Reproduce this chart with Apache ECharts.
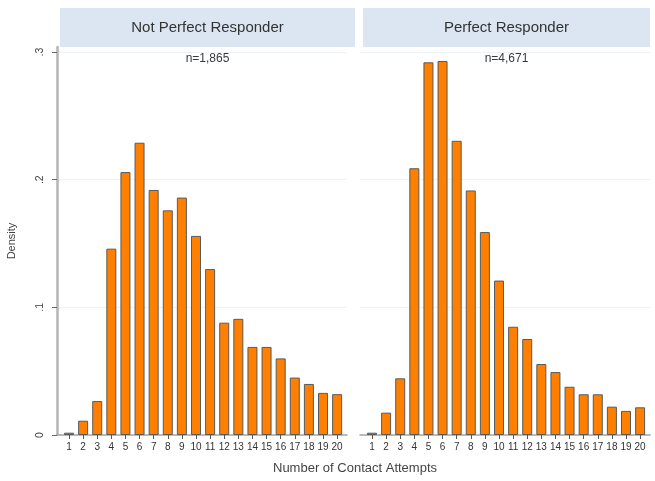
<!DOCTYPE html>
<html>
<head>
<meta charset="utf-8">
<script src="https://cdn.jsdelivr.net/npm/echarts@6/dist/echarts.min.js"></script>
<style>
  html, body { margin: 0; padding: 0; background: #fff; }
  #chart { width: 655px; height: 481px; }
</style>
</head>
<body>
<div id="chart"></div>
<script>
// Number of contact attempts (histogram bins)
const attempts = [1, 2, 3, 4, 5, 6, 7, 8, 9, 10, 11, 12, 13, 14, 15, 16, 17, 18, 19, 20];

// Density per bin, by responder group
const notPerfect = [0.0018, 0.0112, 0.0266, 0.146, 0.206, 0.229, 0.192, 0.176, 0.186, 0.156,
                    0.130, 0.088, 0.091, 0.069, 0.069, 0.060, 0.045, 0.040, 0.033, 0.032];
const perfect    = [0.0018, 0.0175, 0.0444, 0.209, 0.292, 0.293, 0.2305, 0.1916, 0.159, 0.121,
                    0.0848, 0.0752, 0.0556, 0.0493, 0.0378, 0.0319, 0.0319, 0.0222, 0.0189, 0.0217];

const panelTitles = ['Not Perfect Responder', 'Perfect Responder'];
const panelCounts = ['n=1,865', 'n=4,671'];
const yTicks = [0, 0.1, 0.2, 0.3];
const yTickLabels = ['0', '.1', '.2', '.3'];

const FONT = 'Liberation Sans, Arial, sans-serif';
const toPairs = vals => attempts.map((a, i) => [a, vals[i]]);

const chart = echarts.init(document.getElementById('chart'), null, { renderer: 'canvas' });

const grids = [
  { left: 57, top: 47, width: 290, bottom: 46 },
  { left: 360, top: 47, width: 290, bottom: 46 }
];

function xAxis(gridIndex) {
  return {
    type: 'value', gridIndex, min: 0.15, max: 20.7,
    interval: 1,
    axisLine: { show: true, onZero: false, lineStyle: { color: '#a6a6a6', width: 1.5 } },
    axisTick: { show: true, length: 4, lineStyle: { color: '#555' },
      customValues: attempts },
    axisLabel: { show: true, color: '#333', fontSize: 10, fontFamily: FONT, margin: 7,
      customValues: attempts },
    splitLine: { show: false }
  };
}

function yAxis(gridIndex, showAxis) {
  return {
    type: 'value', gridIndex, min: 0, max: 0.304,
    axisLine: { show: showAxis, lineStyle: { color: '#b4b4b4', width: 2.5 } },
    axisTick: { show: showAxis, length: 5, lineStyle: { color: '#666' }, customValues: yTicks },
    axisLabel: {
      show: showAxis, color: '#444', fontSize: 10.5, fontFamily: FONT, rotate: 90, margin: 11,
      customValues: yTicks,
      formatter: v => yTickLabels[yTicks.findIndex(t => Math.abs(t - v) < 1e-6)] ?? ''
    },
    splitLine: { show: true, lineStyle: { color: '#edf2f7', width: 1 } },
    name: showAxis ? 'Density' : '',
    nameLocation: 'middle', nameGap: 40, nameRotate: 90,
    nameTextStyle: { color: '#444', fontSize: 11, fontFamily: FONT }
  };
}

const barStyle = { color: '#ff7f00', borderColor: '#5a5a5a', borderWidth: 1 };

const headerGraphics = [];
const headerBoxes = [[60, 295], [363, 287]];
headerBoxes.forEach(([x, w], i) => {
  headerGraphics.push({
    type: 'rect', left: x, top: 8, z: 100, shape: { width: w, height: 39 },
    style: { fill: '#dce6f2' }, silent: true
  });
  headerGraphics.push({
    type: 'text', x: x + w / 2, y: 28, z: 101,
    style: { text: panelTitles[i], fill: '#333', font: '15px ' + FONT,
      textAlign: 'center', textVerticalAlign: 'middle' }
  });
  headerGraphics.push({
    type: 'text', x: x + w / 2, y: 59, z: 101,
    style: { text: panelCounts[i], fill: '#3a3a3a', font: '12px ' + FONT,
      textAlign: 'center', textVerticalAlign: 'middle' }
  });
});
headerGraphics.push({
  type: 'text', x: 355, y: 468, z: 101,
  style: { text: 'Number of Contact Attempts', fill: '#444', font: '13px ' + FONT,
    textAlign: 'center', textVerticalAlign: 'middle' }
});

chart.setOption({
  animation: false,
  backgroundColor: '#fff',
  grid: grids,
  xAxis: [xAxis(0), xAxis(1)],
  yAxis: [yAxis(0, true), yAxis(1, false)],
  series: [
    { type: 'bar', xAxisIndex: 0, yAxisIndex: 0, data: toPairs(notPerfect),
      barWidth: 10, itemStyle: barStyle },
    { type: 'bar', xAxisIndex: 1, yAxisIndex: 1, data: toPairs(perfect),
      barWidth: 10, itemStyle: barStyle }
  ],
  graphic: headerGraphics
});
</script>
</body>
</html>
